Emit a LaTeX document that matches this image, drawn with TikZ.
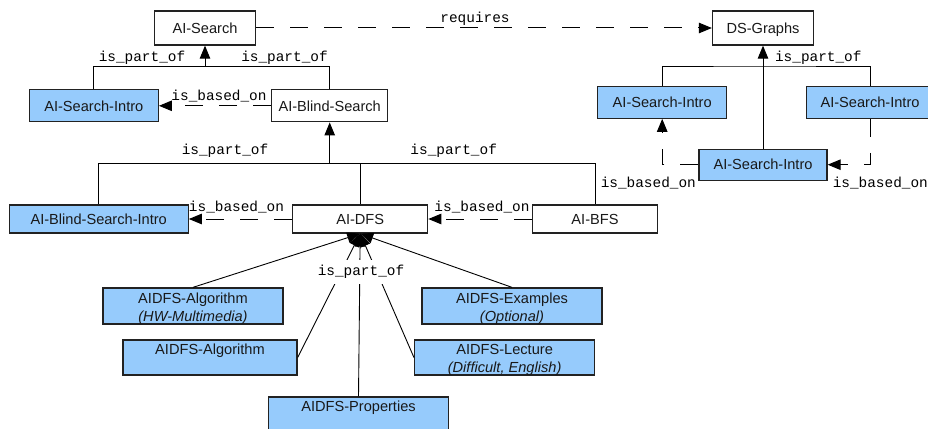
\documentclass[tikz,border=0pt]{standalone}
\usepackage{fontspec}
\setmainfont{Liberation Sans}
\setmonofont{Liberation Mono}
\usetikzlibrary{arrows.meta}

\definecolor{bluefill}{RGB}{150,203,252}
\definecolor{boxline}{RGB}{34,34,34}
\definecolor{textc}{RGB}{25,25,25}

\tikzset{
  box/.style={draw=boxline, line width=1.3pt, fill=white, inner sep=0pt,
    text=textc, font=\fontsize{14.6}{18}\selectfont,
    text height=10.45pt, text depth=0pt, align=center},
  bluebox/.style={box, fill=bluefill},
  % two text rows: the last baseline sits low in the box
  tworow/.style={text height=30.4pt, text depth=0pt},
  % one text row placed in the upper half of a two-row box
  toprow/.style={text height=10.45pt, text depth=15.6pt},
  rel/.style={font=\fontsize{14.4}{17}\ttfamily, inner sep=0pt, text=black},
  link/.style={draw=black, line width=1pt},
  arrowlink/.style={link, -{Triangle[length=13pt,width=10.5pt]}},
  dashlink/.style={arrowlink, dash pattern=on 18pt off 16pt},
  fanlink/.style={arrowlink, line width=0.9pt},
}

\begin{document}
\begin{tikzpicture}[x=1pt,y=-1pt]
\useasboundingbox (0,0) rectangle (928,428);
\clip (0,0) rectangle (928,428);

% top level topics
\node[box, minimum width=101pt, minimum height=34pt] (aisearch) at (205,28) {AI-Search};
\node[box, minimum width=101pt, minimum height=34pt] (dsgraphs) at (763,28) {DS-Graphs};

% search branch
\node[bluebox, minimum width=129pt, minimum height=32pt] (sintroL) at (93.8,105.8) {AI-Search-Intro};
\node[box, minimum width=116pt, minimum height=32pt] (blind) at (329.7,105.8) {AI-Blind-Search};

% graphs branch
\node[bluebox, minimum width=129pt, minimum height=32pt] (dsL) at (662.2,102.2) {AI-Search-Intro};
\node[bluebox, minimum width=127pt, minimum height=32pt] (dsR) at (870,102.2) {AI-Search-Intro};
\node[bluebox, minimum width=128pt, minimum height=31pt] (dsC) at (763,164.7) {AI-Search-Intro};

% blind search level
\node[bluebox, minimum width=179pt, minimum height=28pt] (blindintro) at (98.7,219) {AI-Blind-Search-Intro};
\node[box, minimum width=135pt, minimum height=28pt] (dfs) at (360.2,219) {AI-DFS};
\node[box, minimum width=125pt, minimum height=28pt] (bfs) at (595,219) {AI-BFS};

% DFS material
\node[bluebox, tworow, minimum width=180pt, minimum height=36pt] (algHW) at (193,306) {AIDFS-Algorithm\\\textit{(HW-Multimedia)}};
\node[bluebox, toprow, minimum width=174pt, minimum height=35pt] (alg) at (210,357.5) {AIDFS-Algorithm};
\node[bluebox, toprow, minimum width=180pt, minimum height=35pt] (props) at (358.5,414.5) {AIDFS-Properties};
\node[bluebox, tworow, minimum width=180pt, minimum height=36pt] (examples) at (512,306) {AIDFS-Examples\\\textit{(Optional)}};
\node[bluebox, tworow, minimum width=180pt, minimum height=35pt] (lecture) at (504.6,357.5) {AIDFS-Lecture\\\textit{(Difficult, English)}};

% junction points of the part-of trees
\coordinate (busA) at (205,66.7);
\coordinate (busB) at (329.7,163.3);
\coordinate (busC) at (763,66);

% is_part_of trees
\draw[link] (sintroL.north) |- (busA) -| (blind.north);
\draw[arrowlink] (busA) -- (aisearch.south);
\draw[link] (blindintro.north) |- (busB) -| (bfs.north);
\draw[link] (dfs.north) -- (dfs.north |- busB);
\draw[arrowlink] (busB) -- (blind.south);
\draw[link] (dsL.north) |- (busC) -| (dsR.north);
\draw[arrowlink] (dsC.north) -- (dsgraphs.south);

% dashed relations
\draw[dashlink] (aisearch.east) -- (dsgraphs.west);
\draw[dashlink] (blind.west) -- (sintroL.east);
\draw[dashlink] (dfs.west) -- (blindintro.east);
\draw[dashlink] (bfs.west) -- (dfs.east);
\draw[dashlink] (dsC.west) -| (dsL.south);
\draw[dashlink] (dsR.south) |- (dsC.east);

% DFS parts converging on AI-DFS
\draw[fanlink] (algHW.north) -- (dfs.south);
\draw[fanlink] (alg.east) -- (dfs.south);
\draw[fanlink] (props.north) -- (dfs.south);
\draw[fanlink] (lecture.west) -- (dfs.south);
\draw[fanlink] (examples.north) -- (dfs.south);

% relation labels
\node[rel] (lreq) at (475,19) {requires};
\node[rel] (lpa1) at (142,57.3) {is\_part\_of};
\node[rel] (lpa2) at (284.5,57.3) {is\_part\_of};
\node[rel] (lba1) at (219,96) {is\_based\_on};
\node[rel] (lpa3) at (225,150.7) {is\_part\_of};
\node[rel] (lpa4) at (453.7,150.7) {is\_part\_of};
\node[rel] (lba2) at (236.5,207.3) {is\_based\_on};
\node[rel] (lba3) at (482,206.7) {is\_based\_on};
\node[rel] (lpa5) at (818.3,57.3) {is\_part\_of};
\node[rel] (lba4) at (648.3,182.7) {is\_based\_on};
\node[rel] (lba5) at (880.3,182.7) {is\_based\_on};
\node[rel, fill=white, inner xsep=2pt, inner ysep=5.5pt] (lpa6) at (361,272) {is\_part\_of};
\end{tikzpicture}
\end{document}
